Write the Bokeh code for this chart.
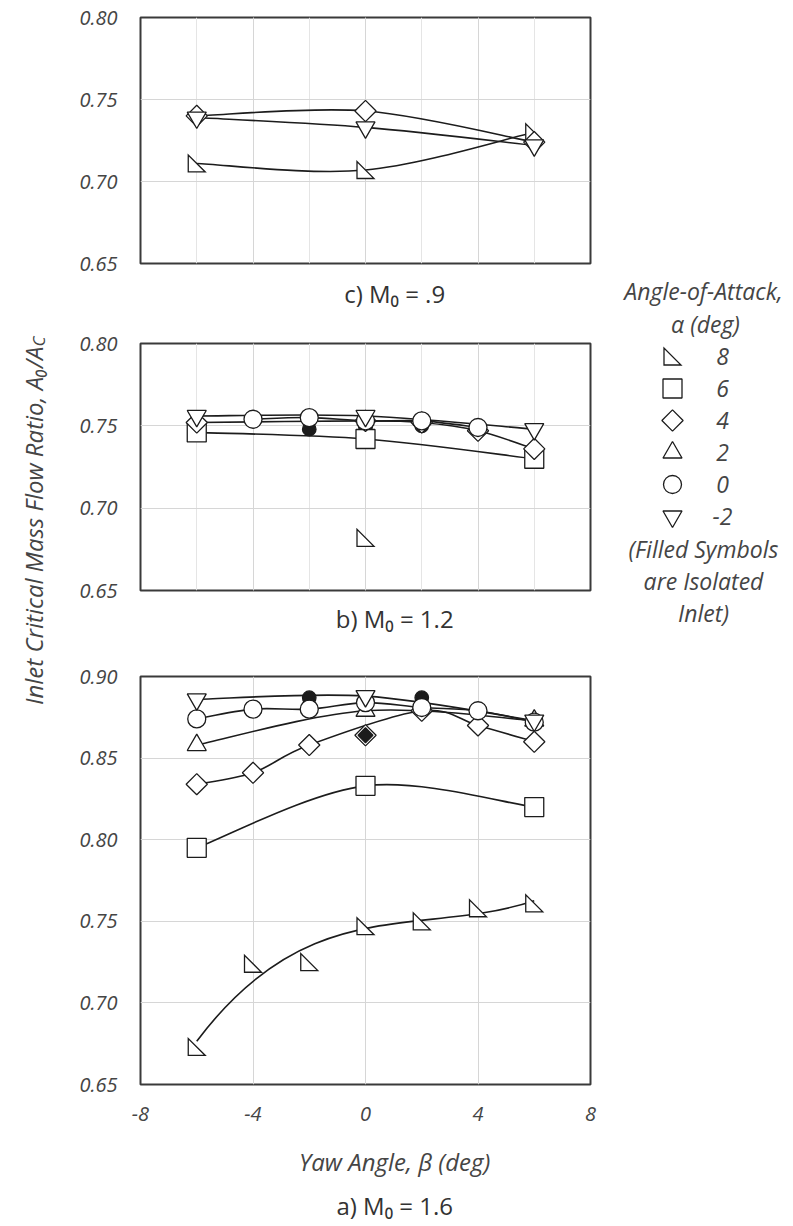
import math
import numpy as np
from bokeh.plotting import figure
from bokeh.layouts import row, column
from bokeh.models import Range1d, FixedTicker, PrintfTickFormatter, Label, Grid
from bokeh.embed import file_html
from bokeh.resources import INLINE

# ---------------- data ----------------
x_ticks = [-8, -4, 0, 4, 8]
y_ticks_small = [0.65, 0.70, 0.75, 0.80]
y_ticks_large = [0.65, 0.70, 0.75, 0.80, 0.85, 0.90]
alpha_labels = ["8", "6", "4", "2", "0", "-2"]

# c) M0 = .9
c_beta_a8 = [-6, 0, 6]
c_mfr_a8 = [0.711, 0.707, 0.730]
c_beta_a4 = [-6, 0, 6]
c_mfr_a4 = [0.740, 0.743, 0.724]
c_beta_am2 = [-6, 0, 6]
c_mfr_am2 = [0.739, 0.733, 0.722]

# b) M0 = 1.2
b_beta_a8 = [0]
b_mfr_a8 = [0.682]
b_beta_a6 = [-6, 0, 6]
b_mfr_a6 = [0.746, 0.742, 0.730]
b_beta_a4 = [-6, 0, 2, 4, 6]
b_mfr_a4 = [0.752, 0.753, 0.752, 0.747, 0.736]
b_beta_a0 = [-4, -2, 0, 2, 4]
b_mfr_a0 = [0.754, 0.755, 0.753, 0.753, 0.749]
b_beta_am2 = [-6, 0, 6]
b_mfr_am2 = [0.756, 0.756, 0.748]
b_beta_iso0 = [-2, 0, 2]
b_mfr_iso0 = [0.748, 0.749, 0.750]

# a) M0 = 1.6
a_beta_a8 = [-6, -4, -2, 0, 2, 4, 6]
a_mfr_a8 = [0.673, 0.724, 0.725, 0.747, 0.750, 0.758, 0.761]
a_beta_a6 = [-6, 0, 6]
a_mfr_a6 = [0.795, 0.833, 0.820]
a_beta_a4 = [-6, -4, -2, 2, 4, 6]
a_mfr_a4 = [0.834, 0.841, 0.858, 0.879, 0.870, 0.860]
a_beta_a2 = [-6, 0, 6]
a_mfr_a2 = [0.858, 0.879, 0.873]
a_beta_a0 = [-6, -4, -2, 0, 2, 4, 6]
a_mfr_a0 = [0.874, 0.880, 0.880, 0.884, 0.881, 0.879, 0.872]
a_beta_am2 = [-6, 0, 6]
a_mfr_am2 = [0.886, 0.888, 0.873]
a_beta_iso0 = [-2, 0, 2]
a_mfr_iso0 = [0.887, 0.886, 0.887]
a_beta_iso4 = [0]
a_mfr_iso4 = [0.864]

# ---------------- style ----------------
FONT = "Open Sans"
INK = "#1c1c1c"
TXT = "#454545"
GRID = "#d6d6d6"
FRAME_W = 450


def smooth_line(p, xs, ys):
    """Smoothed connecting line (Catmull-Rom drawn as Bezier segments)."""
    n = len(xs)
    if n < 2:
        return
    d = dict(x0=[], y0=[], x1=[], y1=[], cx0=[], cy0=[], cx1=[], cy1=[])
    for i in range(n - 1):
        xp, yp = (xs[i - 1], ys[i - 1]) if i > 0 else (xs[i], ys[i])
        xn, yn = (xs[i + 2], ys[i + 2]) if i + 2 < n else (xs[i + 1], ys[i + 1])
        d["x0"].append(xs[i]); d["y0"].append(ys[i])
        d["x1"].append(xs[i + 1]); d["y1"].append(ys[i + 1])
        d["cx0"].append(xs[i] + (xs[i + 1] - xp) / 6.0)
        d["cy0"].append(ys[i] + (ys[i + 1] - yp) / 6.0)
        d["cx1"].append(xs[i + 1] - (xn - xs[i]) / 6.0)
        d["cy1"].append(ys[i + 1] - (yn - ys[i]) / 6.0)
    p.bezier(line_color=INK, line_width=1.6, **d)


def trend_line(p, xs, ys):
    """Cubic least-squares trend line, drawn exactly as one Bezier segment."""
    c = np.polyfit(xs, ys, 3)
    f = np.poly1d(c)
    df = f.deriv()
    a, b = min(xs), max(xs)
    h = (b - a) / 3.0
    p.bezier(x0=[a], y0=[f(a)], x1=[b], y1=[f(b)],
             cx0=[a + h], cy0=[f(a) + df(a) * h],
             cx1=[b - h], cy1=[f(b) - df(b) * h],
             line_color=INK, line_width=1.6)


def markers(p, xs, ys, kind, filled=False, scale=1.0, ppx=None):
    fill = INK if filled else "white"
    if kind == "rtri":
        # right-angled triangle marker (right angle at lower left), size in px
        ux, uy = ppx
        s = 8.5 * scale
        pxs, pys = [], []
        for x, y in zip(xs, ys):
            pxs.append([x - s * ux, x - s * ux, x + s * ux])
            pys.append([y + s * uy, y - s * uy, y - s * uy])
        p.patches(pxs, pys, fill_color="white", line_color=INK, line_width=1.3,
                  line_join="miter")
    elif kind == "square":
        p.scatter(xs, ys, marker="square", size=19 * scale, fill_color=fill,
                  line_color=INK, line_width=1.3)
    elif kind == "diamond":
        p.scatter(xs, ys, marker="square", angle=math.pi / 4, size=15 * scale,
                  fill_color=fill, line_color=INK, line_width=1.3)
    elif kind == "triangle":
        p.scatter(xs, ys, marker="triangle", size=19 * scale, fill_color=fill,
                  line_color=INK, line_width=1.3)
    elif kind == "circle":
        p.scatter(xs, ys, marker="circle", size=18 * scale, fill_color=fill,
                  line_color=INK, line_width=1.3)
    elif kind == "invtri":
        p.scatter(xs, ys, marker="inverted_triangle", size=19 * scale, fill_color=fill,
                  line_color=INK, line_width=1.3)


def make_panel(h, top, bottom, y0, y1, yt, show_x):
    kw = {} if show_x else {"x_axis_location": None}
    p = figure(width=540, height=h, x_range=Range1d(-8, 8), y_range=Range1d(y0, y1),
               output_backend="svg", toolbar_location=None,
               min_border_left=80, min_border_right=10,
               min_border_top=top, min_border_bottom=bottom, **kw)
    p.outline_line_color = "#3a3a3a"
    p.outline_line_width = 2
    p.ygrid.ticker = FixedTicker(ticks=yt)
    p.ygrid.grid_line_color = GRID
    if show_x:
        p.xgrid.ticker = FixedTicker(ticks=x_ticks)
        p.xgrid.grid_line_color = GRID
        ax = p.xaxis[0]
        ax.ticker = FixedTicker(ticks=x_ticks)
        ax.formatter = PrintfTickFormatter(format="%d")
        ax.axis_line_color = None
        ax.major_tick_line_color = None
        ax.minor_tick_line_color = None
        ax.major_label_text_font = FONT
        ax.major_label_text_font_style = "italic"
        ax.major_label_text_font_size = "20px"
        ax.major_label_text_color = TXT
        ax.major_label_standoff = 16
    else:
        p.add_layout(Grid(dimension=0, ticker=FixedTicker(ticks=x_ticks),
                          grid_line_color=GRID))
    ay = p.yaxis[0]
    ay.ticker = FixedTicker(ticks=yt)
    ay.formatter = PrintfTickFormatter(format="%.2f")
    ay.axis_line_color = None
    ay.major_tick_line_color = None
    ay.minor_tick_line_color = None
    ay.major_label_text_font = FONT
    ay.major_label_text_font_style = "italic"
    ay.major_label_text_font_size = "20px"
    ay.major_label_text_color = TXT
    ay.major_label_standoff = 17
    frame_h = h - top - bottom
    ppx = (16.0 / FRAME_W, (y1 - y0) / frame_h)
    return p, ppx


def blank(w, h):
    p = figure(width=w, height=h, x_range=Range1d(0, w), y_range=Range1d(h, 0),
               x_axis_type=None, y_axis_type=None, output_backend="svg",
               toolbar_location=None, min_border=0)
    p.outline_line_color = None
    return p


def label(p, x, y, text, size="23px", style="italic", color=TXT, align="center", angle=0.0):
    p.add_layout(Label(x=x, y=y, text=text, text_align=align, text_baseline="middle",
                       text_font=FONT, text_font_style=style, text_font_size=size,
                       text_color=color, angle=angle))


CAP_SIZE = "24px"
CAP_COLOR = "#333333"

# ---------------- panel c ----------------  (canvas rows 0-276)
fc, pc = make_panel(276, 17, 13, 0.65, 0.80, y_ticks_small, False)
smooth_line(fc, c_beta_a8, c_mfr_a8)
smooth_line(fc, c_beta_a4, c_mfr_a4)
smooth_line(fc, c_beta_am2, c_mfr_am2)
markers(fc, c_beta_a8, c_mfr_a8, "rtri", ppx=pc)
markers(fc, c_beta_a4, c_mfr_a4, "diamond")
markers(fc, c_beta_am2, c_mfr_am2, "invtri")

cap_c = blank(540, 34)            # rows 276-310
label(cap_c, 305, 17, "c) M\u2080 = .9", size=CAP_SIZE, style="normal", color=CAP_COLOR)

# ---------------- panel b ----------------  (rows 310-602)
fb, pb = make_panel(292, 33, 12, 0.65, 0.80, y_ticks_small, False)
smooth_line(fb, b_beta_a6, b_mfr_a6)
smooth_line(fb, b_beta_a4, b_mfr_a4)
smooth_line(fb, b_beta_a0, b_mfr_a0)
smooth_line(fb, b_beta_am2, b_mfr_am2)
markers(fb, b_beta_iso0, b_mfr_iso0, "circle", filled=True, scale=0.75)
markers(fb, b_beta_a8, b_mfr_a8, "rtri", ppx=pb)
markers(fb, b_beta_a6, b_mfr_a6, "square")
markers(fb, b_beta_a4, b_mfr_a4, "diamond")
markers(fb, b_beta_a0, b_mfr_a0, "circle")
markers(fb, b_beta_am2, b_mfr_am2, "invtri")

cap_b = blank(540, 34)            # rows 602-636
label(cap_b, 305, 16, "b) M\u2080 = 1.2", size=CAP_SIZE, style="normal", color=CAP_COLOR)

# ---------------- panel a ----------------  (rows 636-1130)
fa, pa = make_panel(494, 40, 46, 0.65, 0.90, y_ticks_large, True)
trend_line(fa, a_beta_a8, a_mfr_a8)
smooth_line(fa, a_beta_a6, a_mfr_a6)
smooth_line(fa, a_beta_a4, a_mfr_a4)
smooth_line(fa, a_beta_a2, a_mfr_a2)
smooth_line(fa, a_beta_a0, a_mfr_a0)
smooth_line(fa, a_beta_am2, a_mfr_am2)
markers(fa, a_beta_iso0, a_mfr_iso0, "circle", filled=True, scale=0.75)
markers(fa, a_beta_a8, a_mfr_a8, "rtri", ppx=pa)
markers(fa, a_beta_a6, a_mfr_a6, "square")
markers(fa, a_beta_a4, a_mfr_a4, "diamond")
markers(fa, a_beta_a2, a_mfr_a2, "triangle")
markers(fa, a_beta_a0, a_mfr_a0, "circle")
markers(fa, a_beta_am2, a_mfr_am2, "invtri")
markers(fa, a_beta_iso4, a_mfr_iso4, "diamond")
markers(fa, a_beta_iso4, a_mfr_iso4, "diamond", filled=True, scale=0.7)

cap_a = blank(540, 96)            # rows 1130-1226
label(cap_a, 305, 31, "Yaw Angle, \u03b2 (deg)", size="24px")
label(cap_a, 305, 75, "a) M\u2080 = 1.6", size=CAP_SIZE, style="normal", color=CAP_COLOR)

# ---------------- y-axis title ----------------
ylab = blank(60, 1226)
label(ylab, 33, 346, "Inlet Critical Mass Flow Ratio, A\u2080/A", size="24px",
      align="right", angle=math.pi / 2)
label(ylab, 38, 346, "C", size="17px", align="left", angle=math.pi / 2)

# ---------------- legend ----------------
leg = blank(193, 1226)
label(leg, 103, 290, "Angle-of-Attack,")
label(leg, 105, 323, "\u03b1 (deg)")
leg_rows_y = [356, 388, 420, 452, 484, 516]
leg_kinds = ["rtri", "square", "diamond", "triangle", "circle", "invtri"]
for yy, kind, lab in zip(leg_rows_y, leg_kinds, alpha_labels):
    markers(leg, [72], [yy], kind, ppx=(1.0, -1.0))
    label(leg, 122, yy, lab)
label(leg, 103, 548, "(Filled Symbols")
label(leg, 103, 580, "are Isolated")
label(leg, 103, 612, "Inlet)")

p = row(ylab, column(fc, cap_c, fb, cap_b, fa, cap_a, spacing=0), leg, spacing=0)

open("out.html", "w").write(file_html(p, INLINE))
